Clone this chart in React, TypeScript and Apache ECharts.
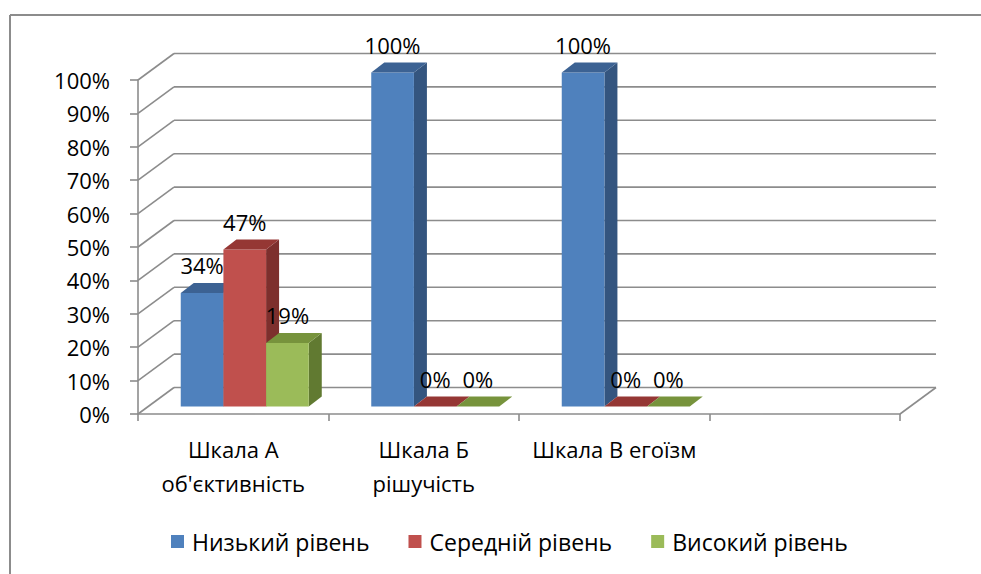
import React, { useEffect, useRef } from 'react';
import * as echarts from 'echarts';

const categories = ["Шкала А\nоб'єктивність", 'Шкала Б\nрішучість', 'Шкала В егоїзм', ''];
const seriesNames = ['Низький рівень', 'Середній рівень', 'Високий рівень'];
const lowLevel = [0.34, 1, 1];
const midLevel = [0.47, 0, 0];
const highLevel = [0.19, 0, 0];
const yTicks = [0, 0.1, 0.2, 0.3, 0.4, 0.5, 0.6, 0.7, 0.8, 0.9, 1];

const FONT = '"Open Sans", "Noto Sans", sans-serif';
const GRID_COLOR = '#8c8c8c';
const WALL_DX = 36;
const WALL_DY = -26.5;
const BAR_DY = -7.5;
const SDX = 13;
const SDY = -10;

const palette = [
  { front: '#4F81BD', top: '#3C6293', side: '#34557F' },
  { front: '#C0504D', top: '#953734', side: '#7D2F2D' },
  { front: '#9BBB59', top: '#77933C', side: '#617A31' },
];

const allSeries = [lowLevel, midLevel, highLevel];

function barGeom(api: any, s: number) {
  const cat = api.value(0);
  const v = api.value(1);
  const base = api.coord([cat, 0]);
  const topPt = api.coord([cat, v]);
  const band = api.size([1, 0])[0];
  const w = band * 0.224;
  const x = base[0] - band * 0.2756 + s * w;
  const yb = base[1] + BAR_DY;
  const yt = topPt[1] + BAR_DY;
  return { x, w, yb, yt, v };
}

const makeBarRender = (s: number) => (params: any, api: any) => {
  const { x, w, yb, yt } = barGeom(api, s);
  const c = palette[s];
  const children: any[] = [];
  children.push({
    type: 'polygon',
    shape: { points: [[x + w, yb], [x + w + SDX, yb + SDY], [x + w + SDX, yt + SDY], [x + w, yt]] },
    style: { fill: c.side },
  });
  if (yb - yt > 0.5) {
    children.push({ type: 'rect', shape: { x, y: yt, width: w, height: yb - yt }, style: { fill: c.front } });
  }
  children.push({
    type: 'polygon',
    shape: { points: [[x, yt], [x + SDX, yt + SDY], [x + w + SDX, yt + SDY], [x + w, yt]] },
    style: { fill: c.top },
  });
  return { type: 'group', children };
};

const labelRender = (params: any, api: any) => {
  const s = api.value(2);
  const { x, w, yt, v } = barGeom(api, s);
  return {
    type: 'text',
    style: {
      text: Math.round(v * 100) + '%',
      x: x + w / 2,
      y: yt - 28,
      align: 'center',
      verticalAlign: 'middle',
      fontSize: 22,
      fontFamily: FONT,
      fill: '#000',
    },
  };
};

const wallRender = (params: any, api: any) => {
  const v = api.value(1);
  const cs = params.coordSys;
  const y = api.coord([0, v])[1];
  const x0 = cs.x;
  const x1 = cs.x + cs.width;
  const style = { stroke: GRID_COLOR, lineWidth: 1.6 };
  const children: any[] = [
    { type: 'line', shape: { x1: x0, y1: y, x2: x0 + WALL_DX, y2: y + WALL_DY }, style },
    { type: 'line', shape: { x1: x0 + WALL_DX, y1: y + WALL_DY, x2: x1 + WALL_DX, y2: y + WALL_DY }, style },
  ];
  if (v === 0) {
    children.push({ type: 'line', shape: { x1: x1, y1: y, x2: x1 + WALL_DX, y2: y + WALL_DY }, style });
  }
  return { type: 'group', children };
};

export default function App() {
  const ref = useRef<HTMLDivElement>(null);
  useEffect(() => {
    document.body.style.margin = '0';
    const chart = echarts.init(ref.current!, null, { renderer: 'svg' });
    const labelData: any[] = [];
    allSeries.forEach((arr, s) => arr.forEach((v, i) => labelData.push([i, v, s])));
    chart.setOption({
      animation: false,
      backgroundColor: '#ffffff',
      graphic: [
        { type: 'line', shape: { x1: 10, y1: 15, x2: 981, y2: 15 }, style: { stroke: GRID_COLOR, lineWidth: 2 } },
        { type: 'line', shape: { x1: 10, y1: 15, x2: 10, y2: 574 }, style: { stroke: GRID_COLOR, lineWidth: 2 } },
      ],
      grid: { left: 138, right: 81, top: 80, bottom: 160, containLabel: false },
      legend: {
        data: seriesNames,
        left: 166,
        top: 525,
        icon: 'rect',
        itemWidth: 13,
        itemHeight: 13,
        itemGap: 39,
        textStyle: { fontSize: 23, fontFamily: FONT, color: '#000', padding: [0, 0, 0, 3] },
      },
      xAxis: {
        type: 'category',
        data: categories,
        boundaryGap: true,
        axisLine: { show: true, lineStyle: { color: GRID_COLOR, width: 1.6 } },
        axisTick: { show: true, length: 7, alignWithLabel: false, lineStyle: { color: GRID_COLOR, width: 1.6 } },
        axisLabel: { interval: 0, margin: 18, fontSize: 22, lineHeight: 34, fontFamily: FONT, color: '#000' },
        splitLine: { show: false },
      },
      yAxis: {
        type: 'value',
        min: 0,
        max: 1,
        interval: 0.1,
        axisLine: { show: true, lineStyle: { color: GRID_COLOR, width: 1.6 } },
        axisTick: { show: true, length: 8, lineStyle: { color: GRID_COLOR, width: 1.6 } },
        axisLabel: {
          margin: 28,
          fontSize: 22,
          fontFamily: FONT,
          color: '#000',
          formatter: (v: number) => Math.round(v * 100) + '%',
        },
        splitLine: { show: false },
      },
      series: [
        {
          type: 'custom',
          name: 'walls',
          z: 1,
          clip: false,
          silent: true,
          renderItem: wallRender,
          encode: { x: 0, y: 1 },
          data: yTicks.map((v) => [0, v]),
        },
        ...allSeries.map((arr, s) => ({
          type: 'custom',
          name: seriesNames[s],
          z: 2,
          clip: false,
          itemStyle: { color: palette[s].front },
          renderItem: makeBarRender(s),
          encode: { x: 0, y: 1 },
          data: arr.map((v, i) => [i, v]),
        })),
        {
          type: 'custom',
          name: 'labels',
          z: 5,
          clip: false,
          silent: true,
          renderItem: labelRender,
          encode: { x: 0, y: 1 },
          data: labelData,
        },
      ],
    });
    return () => chart.dispose();
  }, []);
  return <div ref={ref} style={{ width: 981, height: 574 }} />;
}
